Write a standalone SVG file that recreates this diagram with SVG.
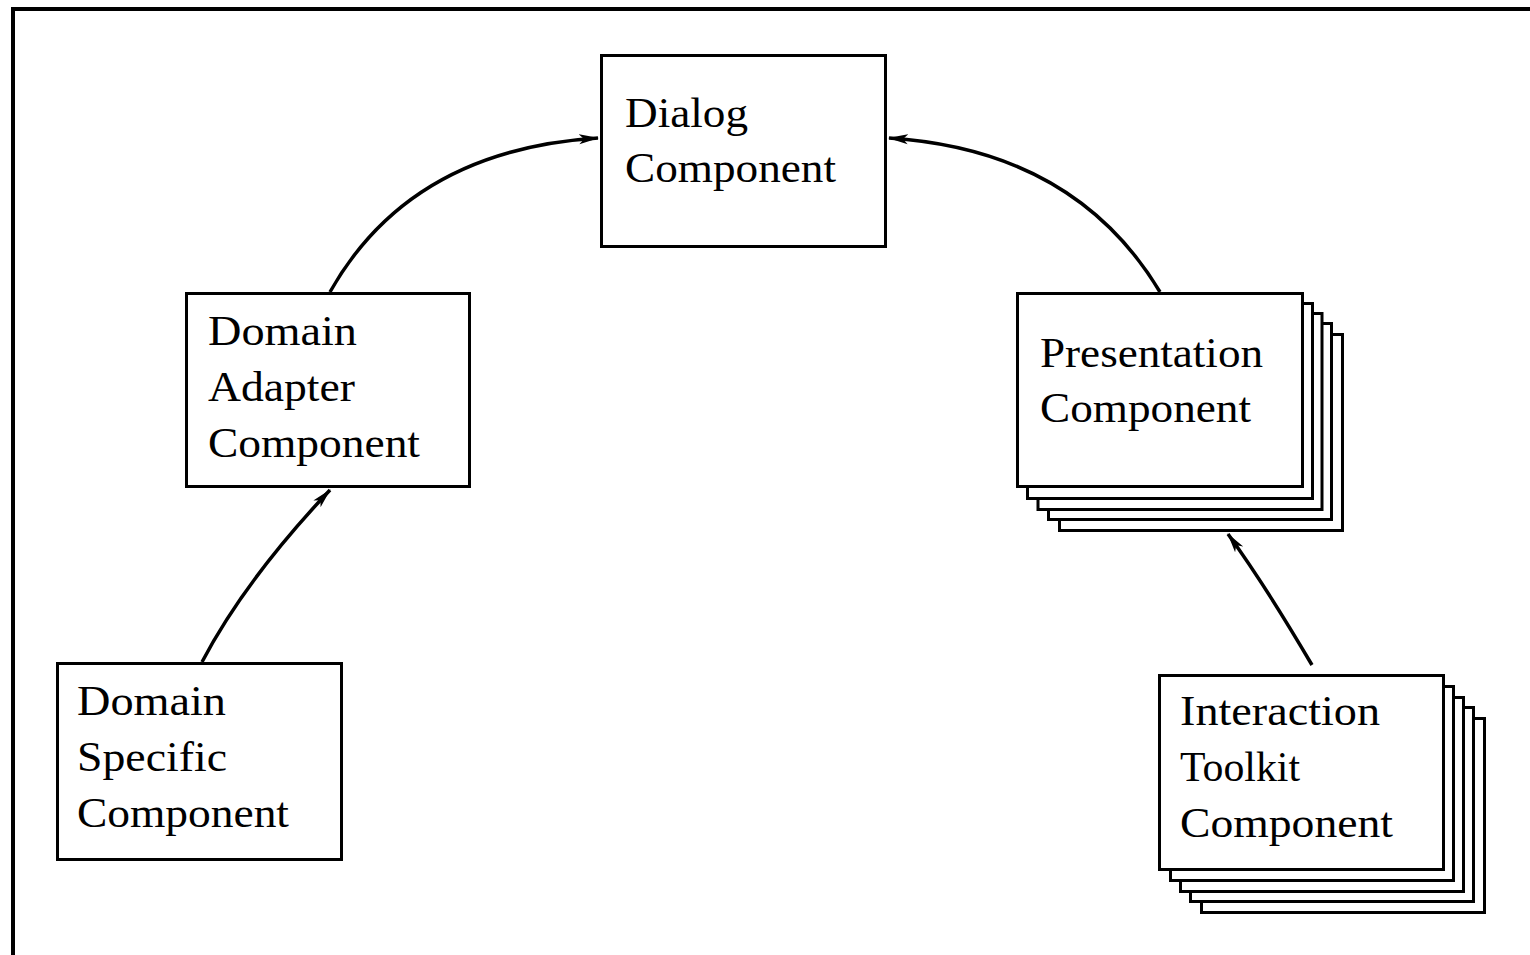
<svg xmlns="http://www.w3.org/2000/svg" width="1530" height="955" viewBox="0 0 1530 955">
<style>
.box{fill:#fff;stroke:#000;stroke-width:3}
.t{font-family:"Liberation Serif",serif;font-size:42px;fill:#000}
.c{fill:none;stroke:#000;stroke-width:3.5}
</style>
<defs>
<marker id="ah" viewBox="0 0 20 12" refX="19" refY="6" markerWidth="20" markerHeight="12" markerUnits="userSpaceOnUse" orient="auto">
<path d="M0,1 L20,6 L0,11 L5,6 Z" fill="#000"/>
</marker>
</defs>
<rect width="1530" height="955" fill="#fff"/>
<path d="M13,955 L13,9 L1530,9" fill="none" stroke="#000" stroke-width="4"/>
<g id="connectors">
<path class="c" d="M330,292 Q410,150 598,138" marker-end="url(#ah)"/>
<path class="c" d="M1160,292 Q1075,150 889,138" marker-end="url(#ah)"/>
<path class="c" d="M202,662 Q245,580 330,490" marker-end="url(#ah)"/>
<path class="c" d="M1312,665 Q1265,585 1228,534" marker-end="url(#ah)"/>
</g>
<g id="dialog">
<rect class="box" x="601.5" y="55.5" width="284" height="191"/>
<text class="t" x="625" y="127" textLength="123" lengthAdjust="spacingAndGlyphs">Dialog</text>
<text class="t" x="625" y="182" textLength="211" lengthAdjust="spacingAndGlyphs">Component</text>
</g>
<g id="domain-adapter">
<rect class="box" x="186.5" y="293.5" width="283" height="193"/>
<text class="t" x="208" y="345" textLength="149" lengthAdjust="spacingAndGlyphs">Domain</text>
<text class="t" x="208" y="401" textLength="147" lengthAdjust="spacingAndGlyphs">Adapter</text>
<text class="t" x="208" y="457" textLength="212" lengthAdjust="spacingAndGlyphs">Component</text>
</g>
<g id="domain-specific">
<rect class="box" x="57.5" y="663.5" width="284" height="196"/>
<text class="t" x="77" y="715" textLength="149" lengthAdjust="spacingAndGlyphs">Domain</text>
<text class="t" x="77" y="771" textLength="150" lengthAdjust="spacingAndGlyphs">Specific</text>
<text class="t" x="77" y="827" textLength="212" lengthAdjust="spacingAndGlyphs">Component</text>
</g>
<g id="presentation">
<rect class="box" x="1059.5" y="334.5" width="283" height="196"/>
<rect class="box" x="1048.5" y="323.5" width="283" height="196"/>
<rect class="box" x="1038" y="313.5" width="284" height="196"/>
<rect class="box" x="1027.5" y="303.5" width="285" height="195"/>
<rect class="box" x="1017.5" y="293.5" width="285" height="193"/>
<text class="t" x="1040" y="367" textLength="223" lengthAdjust="spacingAndGlyphs">Presentation</text>
<text class="t" x="1040" y="422" textLength="211" lengthAdjust="spacingAndGlyphs">Component</text>
</g>
<g id="interaction-toolkit">
<rect class="box" x="1201.5" y="718.5" width="283" height="194"/>
<rect class="box" x="1190.5" y="707.5" width="283" height="194"/>
<rect class="box" x="1180.5" y="697.5" width="283" height="194"/>
<rect class="box" x="1170.5" y="686.5" width="283" height="194"/>
<rect class="box" x="1159.5" y="675.5" width="284" height="194"/>
<text class="t" x="1180" y="725" textLength="200" lengthAdjust="spacingAndGlyphs">Interaction</text>
<text class="t" x="1180" y="781" textLength="120" lengthAdjust="spacingAndGlyphs">Toolkit</text>
<text class="t" x="1180" y="837" textLength="213" lengthAdjust="spacingAndGlyphs">Component</text>
</g>
</svg>
